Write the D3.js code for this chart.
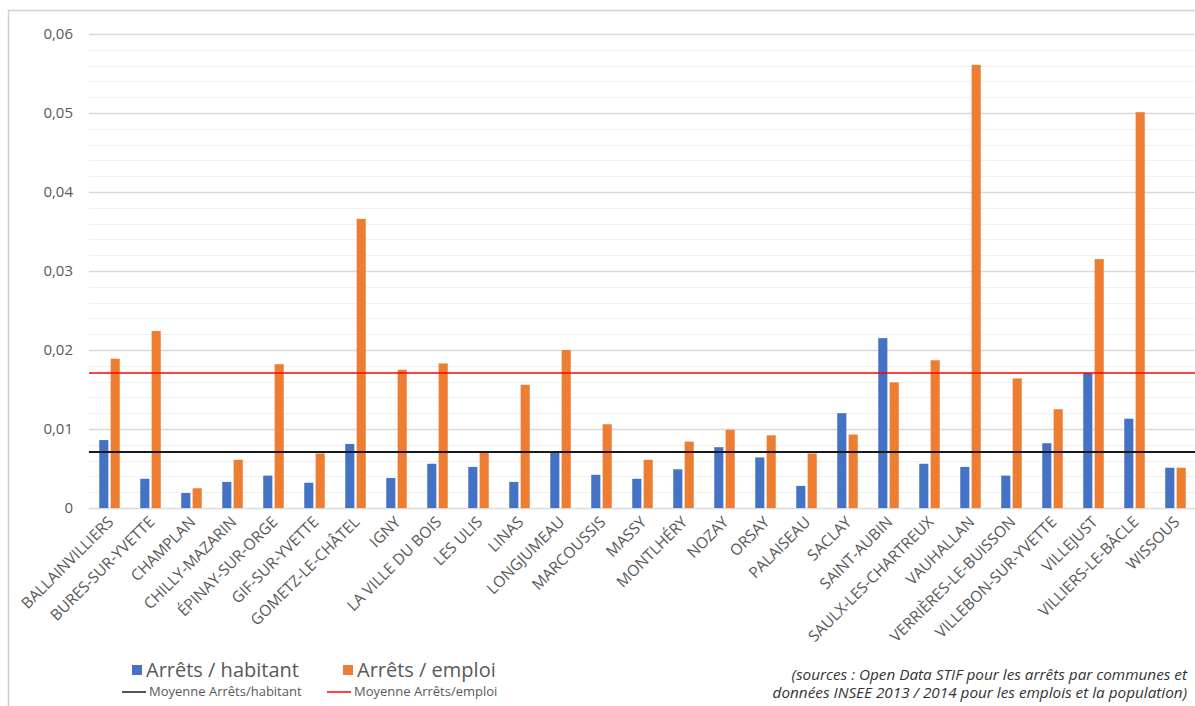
<!DOCTYPE html>
<html><head><meta charset="utf-8">
<script src="https://cdn.jsdelivr.net/npm/d3@7"></script>
<style>body{margin:0;background:#fff}svg{display:block}</style>
</head><body>
<script>
const communes = ["BALLAINVILLIERS","BURES-SUR-YVETTE","CHAMPLAN","CHILLY-MAZARIN","ÉPINAY-SUR-ORGE","GIF-SUR-YVETTE","GOMETZ-LE-CHÂTEL","IGNY","LA VILLE DU BOIS","LES ULIS","LINAS","LONGJUMEAU","MARCOUSSIS","MASSY","MONTLHÉRY","NOZAY","ORSAY","PALAISEAU","SACLAY","SAINT-AUBIN","SAULX-LES-CHARTREUX","VAUHALLAN","VERRIÈRES-LE-BUISSON","VILLEBON-SUR-YVETTE","VILLEJUST","VILLIERS-LE-BÂCLE","WISSOUS"];
const arretsHabitant = [0.0086,0.0037,0.0019,0.0033,0.0041,0.0032,0.0081,0.0038,0.0056,0.0052,0.0033,0.0070,0.0042,0.0037,0.0049,0.0077,0.0064,0.0028,0.0120,0.0215,0.0056,0.0052,0.0041,0.0082,0.0171,0.0113,0.0051];
const arretsEmploi = [0.0189,0.0224,0.0025,0.0061,0.0182,0.0069,0.0366,0.0175,0.0183,0.0071,0.0156,0.0200,0.0106,0.0061,0.0084,0.0099,0.0092,0.0069,0.0093,0.0159,0.0187,0.0561,0.0164,0.0125,0.0315,0.0501,0.0051];
const moyenneHabitant = 0.0071;
const moyenneEmploi = 0.0171;
const yTicks = [0,0.01,0.02,0.03,0.04,0.05,0.06];
const seriesNames = ["Arrêts / habitant","Arrêts / emploi"];
const lineNames = ["Moyenne Arrêts/habitant","Moyenne Arrêts/emploi"];
const sourceLines = ["(sources : Open Data STIF pour les arrêts par communes et","données INSEE 2013 / 2014 pour les emplois et la population)"];

const W=1195,H=706;
const colors={hab:"#4472C4",emp:"#ED7D31"};
const svg=d3.select("body").append("svg").attr("width",W).attr("height",H);
svg.append("rect").attr("x",8.5).attr("y",10.5).attr("width",1300).attr("height",800)
  .attr("fill","#fff").attr("stroke","#d0d0d0").attr("stroke-width",1.5);

const pLeft=89,pRight=1196,pTop=34,pBottom=508;
const y=d3.scaleLinear().domain([0,0.06]).range([pBottom,pTop]);
const x0=d3.scaleBand().domain(communes).range([pLeft,pRight]).paddingInner(0.5).paddingOuter(0.25);
const x1=d3.scaleBand().domain(["hab","emp"]).range([0,x0.bandwidth()]).paddingInner(0.2);

// minor gridlines
const minor=d3.range(0,0.0601,0.002).filter(v=>Math.abs(v*100-Math.round(v*100))>1e-6);
svg.append("g").selectAll("line").data(minor).join("line")
  .attr("x1",pLeft).attr("x2",W).attr("y1",d=>Math.round(y(d))+0.5).attr("y2",d=>Math.round(y(d))+0.5)
  .attr("stroke","#f0f0f0").attr("stroke-width",1);
// y axis with major gridlines
const yAxis=d3.axisLeft(y).tickValues(yTicks).tickSize(-(W-pLeft)).tickPadding(16)
  .tickFormat(d=>d===0?"0":d3.format(".2f")(d).replace(".",","));
const gy=svg.append("g").attr("transform",`translate(${pLeft},0)`).call(yAxis);
gy.select(".domain").remove();
gy.selectAll(".tick line").attr("stroke","#d9d9d9").attr("stroke-width",1.3);
gy.selectAll(".tick text").attr("fill","#595959").attr("font-family","Open Sans").attr("font-size",15);

// bars
const g=svg.append("g");
const groups=g.selectAll("g").data(communes).join("g").attr("transform",d=>`translate(${x0(d)},0)`);
groups.append("rect").attr("x",x1("hab")).attr("width",x1.bandwidth())
  .attr("y",(d,i)=>y(arretsHabitant[i])).attr("height",(d,i)=>y(0)-y(arretsHabitant[i])).attr("fill",colors.hab);
groups.append("rect").attr("x",x1("emp")).attr("width",x1.bandwidth())
  .attr("y",(d,i)=>y(arretsEmploi[i])).attr("height",(d,i)=>y(0)-y(arretsEmploi[i])).attr("fill",colors.emp);

// mean lines
svg.append("line").attr("x1",pLeft).attr("x2",W).attr("y1",y(moyenneHabitant)).attr("y2",y(moyenneHabitant))
  .attr("stroke","#1a1a1a").attr("stroke-width",2);
svg.append("line").attr("x1",pLeft).attr("x2",W).attr("y1",y(moyenneEmploi)).attr("y2",y(moyenneEmploi))
  .attr("stroke","#ff0000").attr("stroke-width",1.5);

// x axis labels
const xAxis=d3.axisBottom(x0).tickSize(0).tickPadding(0);
const gx=svg.append("g").attr("transform",`translate(0,${pBottom})`).call(xAxis);
gx.select(".domain").remove();
gx.selectAll(".tick text").attr("fill","#595959").attr("font-family","Open Sans").attr("font-size",15.5)
  .attr("text-anchor","end").attr("dy",0).attr("transform","translate(5,15) rotate(-45)");

// legend
const lg=svg.append("g").attr("font-family","Open Sans");
const legX=[132,343];
[colors.hab,colors.emp].forEach((c,i)=>{
  lg.append("rect").attr("x",legX[i]).attr("y",665).attr("width",10).attr("height",10).attr("fill",c);
  lg.append("text").attr("x",legX[i]+14).attr("y",677).attr("font-size",20).attr("fill","#595959").text(seriesNames[i]);
});
const lineX=[122,327], lineCol=["#1a1a1a","#ff0000"];
lineNames.forEach((n,i)=>{
  lg.append("line").attr("x1",lineX[i]).attr("x2",lineX[i]+24).attr("y1",692).attr("y2",692).attr("stroke",lineCol[i]).attr("stroke-width",1.5);
  lg.append("text").attr("x",lineX[i]+27).attr("y",696).attr("font-size",13).attr("fill","#595959").text(n);
});
// source
const st=svg.append("g").attr("font-family","Open Sans").attr("font-style","italic").attr("font-size",15.3).attr("fill","#333").attr("text-anchor","end");
sourceLines.forEach((s,i)=>st.append("text").attr("x",1187).attr("y",680+i*18).text(s));
</script>
</body></html>
